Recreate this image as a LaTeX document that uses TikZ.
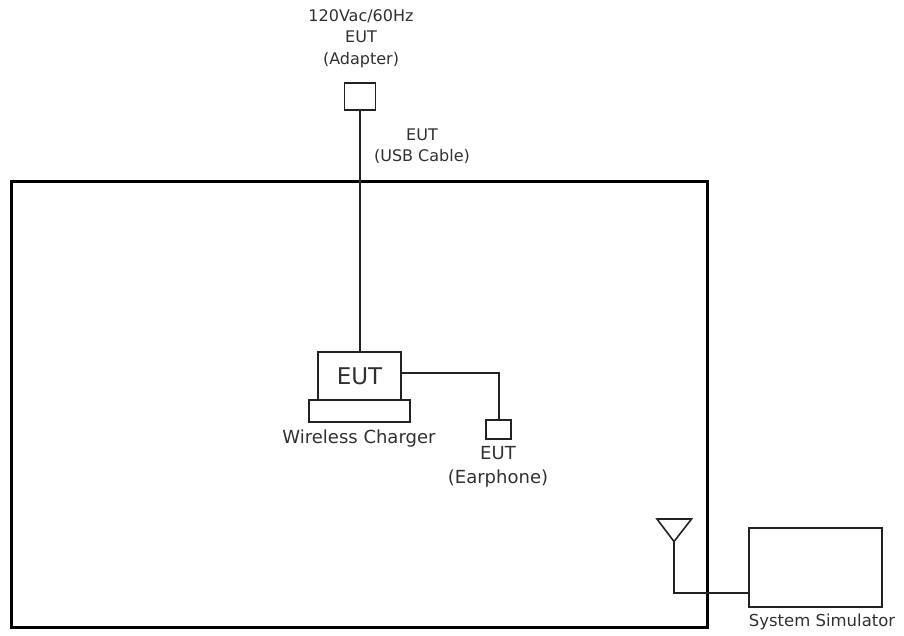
\documentclass[tikz,border=0pt]{standalone}
\usepackage{fontspec}
\setmainfont{DejaVu Sans}
\usetikzlibrary{calc}
\definecolor{ink}{HTML}{222222}
\definecolor{txt}{HTML}{303030}
\begin{document}
\begin{tikzpicture}[x=1pt,y=-1pt,
  box/.style={draw=ink,line width=1.8pt,inner sep=0pt,fill=white},
  wire/.style={draw=ink,line width=2pt},
  lbl/.style={text=txt,align=center,inner sep=0pt,font=\fontsize{16}{21.5}\selectfont},
  lblb/.style={text=txt,align=center,inner sep=0pt,font=\fontsize{18}{24}\selectfont}]
\useasboundingbox (0,0) rectangle (904,635);
% chamber
\draw[line width=3pt,black] (11.5,181) rectangle (707,627.5);
% adapter
\node[box,minimum width=31pt,minimum height=27pt] (adp) at (360,96.5) {};
\node[lbl] (adplbl) at (361,38.5) {120Vac/60Hz\\EUT\\(Adapter)};
\node[lbl] (usblbl) at (422,146) {EUT\\(USB Cable)};
% charger
\node[box,minimum width=101pt,minimum height=21.5pt] (base) at (359.5,411) {};
\node[box,minimum width=83pt,minimum height=48pt,font=\fontsize{23}{26}\selectfont,text=txt] (eut) at (359.5,376) {EUT};
\node[lblb] (wclbl) at (359,439) {Wireless Charger};
\draw[wire] (adp.south) -- (adp.south |- eut.north);
% earphone
\node[box,minimum width=24.5pt,minimum height=19pt] (ear) at (498.5,429.5) {};
\node[lblb] (earlbl) at (498,467) {EUT\\(Earphone)};
\draw[wire] ([yshift=3pt]eut.east) -| (ear.north);
% antenna
\coordinate (apex) at (674,541.5);
\draw[ink,line width=1.6pt,line join=miter] (657,519) -- (691.5,519) -- (apex) -- cycle;
% simulator
\node[box,minimum width=133pt,minimum height=79pt] (sim) at (815.5,567.5) {};
\coordinate (simport) at (sim.west |- 0,593);
\draw[wire] (apex) |- (simport);
\node[lblb,font=\fontsize{16.5}{20}\selectfont] (simlbl) at (822,622) {System Simulator};
\end{tikzpicture}
\end{document}
